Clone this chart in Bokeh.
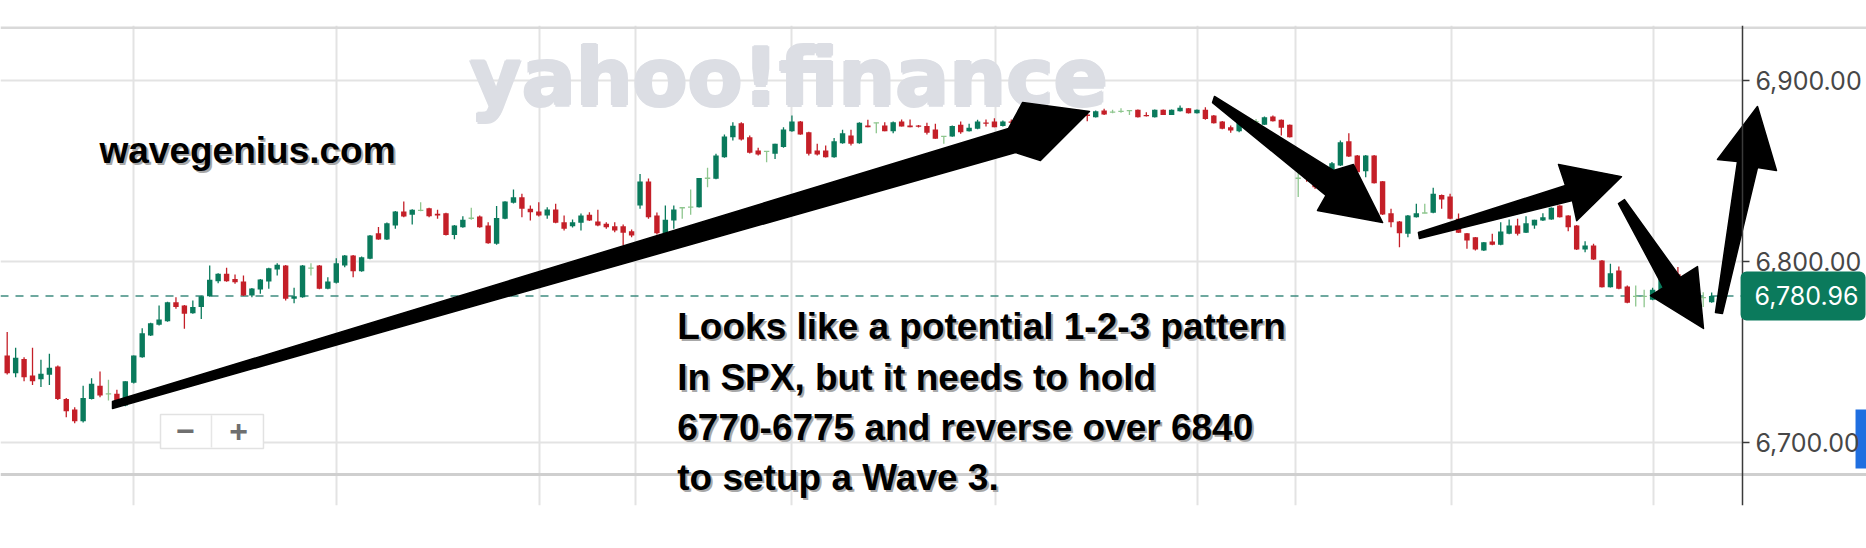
from bokeh.plotting import figure
from bokeh.models import Range1d, FixedTicker, NumeralTickFormatter, Span, ColumnDataSource
from bokeh.core.properties import value
from bokeh.embed import file_html
from bokeh.resources import INLINE

# ---------------- data ----------------
opens = [6748.0, 6738.3, 6746.2, 6737.0, 6735.0, 6737.4, 6742.0, 6724.0, 6718.2, 6711.8,
         6724.1, 6731.3, 6726.9, 6726.9, 6720.4, 6733.0, 6747.1, 6759.1, 6765.0, 6767.0,
         6777.5, 6775.7, 6771.4, 6774.8, 6780.8, 6789.1, 6793.2, 6790.4, 6788.9, 6781.2,
         6784.5, 6788.9, 6795.6, 6797.8, 6779.4, 6780.3, 6796.3, 6797.8, 6784.9, 6788.2,
         6797.8, 6803.3, 6794.6, 6801.5, 6815.6, 6812.2, 6819.9, 6827.6, 6825.8, 6828.2,
         6829.4, 6826.4, 6826.7, 6814.7, 6818.9, 6823.9, 6824.9, 6819.9, 6809.8, 6823.6,
         6832.4, 6835.5, 6829.1, 6827.6, 6825.4, 6828.7, 6821.7, 6819.5, 6821.4, 6825.8,
         6822.1, 6820.8, 6819.5, 6819.5, 6816.7, 6830.9, 6844.2, 6825.4, 6815.6, 6822.7,
         6829.7, 6830.0, 6830.0, 6846.0, 6845.7, 6857.6, 6868.7, 6876.4, 6868.7, 6861.3,
         6860.8, 6859.5, 6863.2, 6872.0, 6877.3, 6871.4, 6861.3, 6861.3, 6857.6, 6865.4,
         6869.6, 6865.4, 6875.1, 6876.6, 6875.1, 6872.0, 6877.3, 6875.1, 6875.1, 6874.8,
         6872.9, 6869.1, 6869.1, 6875.5, 6872.0, 6873.3, 6876.8, 6877.3, 6874.8, 6877.1,
         6876.5, 6878.0, 6877.0, 6879.0, 6880.0, 6879.0, 6881.0, 6883.4, 6881.2, 6879.7,
         6883.4, 6882.5, 6882.9, 6883.4, 6883.8, 6880.9, 6879.7, 6883.8, 6881.0, 6883.0,
         6884.7, 6881.9, 6883.8, 6880.7, 6877.3, 6874.2, 6872.0, 6876.5, 6877.3, 6875.5,
         6880.1, 6878.3, 6875.5, 6846.0, 6852.0, 6844.0, 6842.0, 6848.4, 6853.0, 6866.5,
         6858.6, 6849.9, 6858.6, 6844.4, 6826.7, 6822.1, 6815.3, 6824.5, 6826.8, 6826.9,
         6836.8, 6835.9, 6823.6, 6815.6, 6813.4, 6806.1, 6811.0, 6809.2, 6815.3, 6819.9,
         6815.9, 6819.9, 6822.7, 6823.2, 6830.9, 6825.4, 6819.9, 6806.6, 6808.8, 6800.6,
         6785.8, 6795.0, 6786.2, 6780.7, 6780.7, 6778.8, 6784.0, 6795.0, 6793.0, 6786.0,
         6781.0, 6780.1, 6777.5]
highs = [6761.0, 6752.3, 6747.1, 6752.3, 6745.7, 6749.0, 6742.5, 6724.6, 6719.5, 6731.3,
         6735.5, 6739.2, 6734.6, 6729.1, 6733.9, 6748.1, 6763.1, 6766.2, 6775.7, 6777.8,
         6780.3, 6776.0, 6778.5, 6781.1, 6797.8, 6793.5, 6796.5, 6792.8, 6792.3, 6785.4,
         6790.4, 6796.6, 6799.0, 6798.1, 6785.5, 6798.1, 6799.0, 6798.1, 6791.3, 6801.8,
         6803.6, 6803.6, 6802.7, 6814.7, 6819.0, 6821.5, 6827.9, 6833.1, 6828.9, 6832.8,
         6829.7, 6828.6, 6827.0, 6820.2, 6825.0, 6829.7, 6825.4, 6821.7, 6830.6, 6833.3,
         6839.8, 6837.4, 6830.9, 6832.8, 6830.0, 6831.9, 6825.4, 6823.2, 6826.5, 6827.2,
         6828.6, 6821.7, 6821.7, 6820.4, 6817.7, 6848.4, 6845.9, 6827.1, 6830.9, 6830.9,
         6829.7, 6839.8, 6846.2, 6851.8, 6859.5, 6870.2, 6877.0, 6877.0, 6869.6, 6862.8,
         6860.8, 6865.0, 6874.2, 6880.7, 6877.6, 6871.7, 6865.0, 6864.1, 6868.3, 6872.8,
         6872.8, 6876.9, 6878.3, 6876.6, 6877.0, 6877.3, 6878.5, 6878.5, 6875.4, 6876.6,
         6876.1, 6869.1, 6875.1, 6877.3, 6876.1, 6878.3, 6878.5, 6879.2, 6877.9, 6878.5,
         6879.0, 6879.0, 6880.0, 6881.0, 6881.0, 6882.0, 6882.0, 6883.8, 6881.9, 6883.4,
         6884.4, 6883.8, 6884.7, 6883.4, 6884.0, 6882.5, 6884.0, 6884.0, 6884.0, 6886.2,
         6884.8, 6884.0, 6885.2, 6880.9, 6877.6, 6875.1, 6877.6, 6879.0, 6878.8, 6880.1,
         6880.7, 6878.5, 6875.7, 6850.3, 6853.0, 6845.0, 6849.0, 6855.0, 6866.9, 6870.9,
         6858.8, 6858.8, 6858.8, 6844.5, 6829.1, 6822.4, 6825.7, 6831.9, 6831.9, 6840.7,
         6837.0, 6837.4, 6826.5, 6815.7, 6813.5, 6810.8, 6815.3, 6821.7, 6823.2, 6823.6,
         6825.0, 6823.1, 6826.7, 6829.8, 6831.1, 6825.6, 6820.1, 6811.2, 6809.8, 6800.8,
         6798.7, 6797.2, 6786.7, 6786.7, 6784.4, 6785.5, 6795.5, 6797.0, 6797.0, 6788.0,
         6784.0, 6783.0, 6782.9]
lows = [6737.5, 6736.1, 6733.9, 6731.7, 6730.6, 6731.7, 6723.5, 6713.9, 6710.7, 6711.0,
        6723.8, 6725.0, 6723.2, 6720.0, 6720.0, 6732.6, 6746.8, 6758.8, 6764.7, 6766.7,
        6773.9, 6762.8, 6771.1, 6768.3, 6780.5, 6788.0, 6788.8, 6787.7, 6780.9, 6780.3,
        6782.2, 6784.9, 6792.3, 6778.5, 6777.0, 6780.0, 6792.3, 6784.6, 6784.6, 6787.9,
        6796.8, 6791.3, 6794.3, 6801.2, 6812.0, 6811.9, 6818.1, 6824.5, 6820.4, 6827.8,
        6824.5, 6823.6, 6814.4, 6812.3, 6818.6, 6823.0, 6818.6, 6809.8, 6809.2, 6823.3,
        6832.1, 6824.5, 6822.7, 6824.9, 6823.6, 6821.1, 6817.1, 6818.8, 6817.1, 6822.4,
        6819.5, 6818.1, 6816.2, 6808.8, 6813.4, 6829.1, 6823.6, 6814.9, 6815.5, 6818.1,
        6823.6, 6825.8, 6829.8, 6841.0, 6845.4, 6857.3, 6866.9, 6866.9, 6859.7, 6858.6,
        6854.9, 6856.7, 6862.9, 6871.7, 6870.0, 6858.6, 6858.6, 6857.4, 6857.3, 6865.1,
        6864.1, 6865.1, 6874.2, 6870.9, 6872.0, 6870.9, 6874.6, 6874.2, 6874.1, 6870.2,
        6867.8, 6865.0, 6868.9, 6870.6, 6871.8, 6873.0, 6874.6, 6874.2, 6874.6, 6876.2,
        6876.0, 6876.0, 6876.5, 6878.0, 6878.0, 6878.5, 6879.0, 6881.6, 6877.5, 6879.6,
        6880.9, 6881.9, 6882.2, 6881.0, 6879.6, 6880.1, 6879.6, 6880.9, 6880.9, 6882.9,
        6881.8, 6881.8, 6878.3, 6876.2, 6873.1, 6871.1, 6871.4, 6876.0, 6876.1, 6875.4,
        6877.3, 6869.6, 6868.5, 6835.7, 6844.0, 6840.0, 6841.0, 6847.5, 6852.8, 6857.7,
        6849.2, 6846.6, 6843.1, 6825.7, 6818.9, 6807.9, 6813.4, 6824.3, 6826.7, 6826.7,
        6829.1, 6823.4, 6815.7, 6807.0, 6806.1, 6805.8, 6809.0, 6809.0, 6815.1, 6814.4,
        6815.7, 6818.1, 6822.4, 6823.0, 6824.3, 6816.7, 6806.3, 6805.1, 6800.8, 6785.6,
        6785.6, 6784.7, 6777.0, 6775.1, 6774.7, 6778.6, 6783.7, 6789.0, 6785.0, 6781.0,
        6778.0, 6774.8, 6777.2]
closes = [6738.3, 6746.8, 6736.1, 6733.9, 6738.0, 6741.3, 6724.1, 6717.3, 6711.8, 6724.6,
          6732.4, 6726.0, 6726.9, 6720.4, 6733.9, 6748.1, 6760.4, 6765.9, 6768.0, 6777.5,
          6774.8, 6771.1, 6774.8, 6780.8, 6789.9, 6793.2, 6789.1, 6788.6, 6781.2, 6785.1,
          6790.1, 6796.3, 6798.2, 6779.4, 6780.8, 6797.8, 6796.3, 6784.9, 6788.9, 6799.0,
          6803.3, 6794.6, 6802.4, 6814.4, 6812.2, 6821.2, 6827.6, 6824.9, 6828.6, 6828.2,
          6825.0, 6825.4, 6814.7, 6819.9, 6823.0, 6823.9, 6818.9, 6810.1, 6824.1, 6833.1,
          6835.5, 6829.1, 6827.2, 6825.4, 6828.7, 6821.4, 6818.1, 6821.7, 6825.4, 6822.7,
          6819.9, 6818.9, 6817.1, 6815.9, 6814.4, 6844.2, 6824.5, 6815.6, 6823.0, 6828.7,
          6829.7, 6830.0, 6846.2, 6846.0, 6858.6, 6869.1, 6875.0, 6867.4, 6860.1, 6859.1,
          6860.8, 6865.0, 6872.9, 6877.3, 6870.2, 6859.5, 6859.1, 6857.6, 6866.5, 6870.9,
          6865.0, 6876.6, 6874.2, 6876.6, 6872.0, 6877.0, 6874.6, 6874.2, 6874.4, 6871.1,
          6867.8, 6869.1, 6874.8, 6871.4, 6873.9, 6877.3, 6876.2, 6874.2, 6877.3, 6876.8,
          6878.0, 6877.0, 6879.0, 6880.0, 6879.0, 6881.0, 6880.0, 6882.7, 6880.4, 6883.0,
          6881.2, 6882.5, 6882.9, 6883.4, 6879.7, 6880.4, 6883.8, 6881.0, 6883.8, 6884.9,
          6881.9, 6883.8, 6878.8, 6876.4, 6873.3, 6872.4, 6877.3, 6878.5, 6877.3, 6879.7,
          6877.5, 6873.9, 6868.7, 6846.0, 6846.0, 6841.0, 6848.0, 6854.3, 6865.9, 6858.0,
          6849.3, 6858.6, 6843.3, 6826.0, 6821.7, 6815.6, 6825.4, 6826.7, 6826.8, 6837.4,
          6834.3, 6823.6, 6815.9, 6811.6, 6806.6, 6810.7, 6809.2, 6816.6, 6819.9, 6815.3,
          6821.2, 6823.0, 6824.5, 6829.7, 6824.5, 6818.9, 6806.6, 6808.8, 6801.1, 6785.8,
          6793.5, 6784.9, 6777.2, 6780.7, 6780.7, 6784.4, 6795.0, 6790.0, 6786.0, 6782.0,
          6781.0, 6780.1, 6780.96]

y_ticks = [6700, 6800, 6900]
# session boundaries (vertical grid lines), in bar units
x_grid_ticks = [14.97, 39.0, 63.12, 74.46, 92.95, 117.12, 141.1, 152.68, 171.17, 195.07]
last_price = 6780.96
last_price_label = "6,780.96"

note_lines = ["Looks like a potential 1-2-3 pattern",
              "In SPX, but it needs to hold",
              "6770-6775 and reverse over 6840",
              "to setup a Wave 3."]
site_text = "wavegenius.com"
watermark = "yahoo!finance"

# ---------------- derived ----------------
UP, DOWN, FLAT = "#0a7a5c", "#c41f28", "#8ec68e"
xs = list(range(len(opens)))
colors, tops, bots = [], [], []
for o, c in zip(opens, closes):
    colors.append(UP if c > o else (DOWN if c < o else FLAT))
    t, b = max(o, c), min(o, c)
    if t - b < 0.7:
        m = (t + b) / 2
        t, b = m + 0.35, m - 0.35
    tops.append(t)
    bots.append(b)
src = ColumnDataSource(dict(x=xs, high=highs, low=lows, top=tops, bottom=bots, color=colors))

X_LO, X_HI = -0.794, 220.35      # visible bar range (full width)
AXIS_X = 205.65                  # where the price scale sits
Y_LO, Y_HI = 6665.19, 6930.39

p = figure(frame_width=1866, frame_height=480,
           x_range=Range1d(X_LO, X_HI), y_range=Range1d(Y_LO, Y_HI),
           output_backend="svg", toolbar_location=None,
           x_axis_location=None, y_axis_location="right",
           min_border_left=0, min_border_top=25, min_border_bottom=43, min_border_right=0,
           background_fill_color="white", border_fill_color="white", outline_line_color=None)

# vertical grid
p.ygrid.visible = False
p.xgrid.ticker = FixedTicker(ticks=x_grid_ticks)
p.xgrid.grid_line_color = "#e3e3e3"
p.xgrid.grid_line_width = 2

# horizontal grid lines stop at the price scale
p.segment(x0=[X_LO] * len(y_ticks), x1=[AXIS_X] * len(y_ticks), y0=y_ticks, y1=y_ticks,
          line_color="#e3e3e3", line_width=2)

# y axis, pinned at the price-scale position
ax = p.yaxis[0]
ax.fixed_location = AXIS_X
ax.ticker = FixedTicker(ticks=y_ticks)
ax.formatter = NumeralTickFormatter(format="0,0.00")
ax.major_label_text_font = "Inter"
ax.major_label_text_font_size = "25px"
ax.major_label_text_color = "#474747"
ax.axis_line_color = "#3a3a3a"
ax.axis_line_width = 1.5
ax.major_tick_line_color = "#3a3a3a"
ax.major_tick_line_width = 1.5
ax.major_tick_out = 7
ax.major_tick_in = 0
ax.minor_tick_out = 0
ax.minor_tick_in = 0
ax.major_label_standoff = 6

# borders of the price pane (full width)
p.add_layout(Span(location=6929.1, dimension="width", line_color="#d9d9d9", line_width=2.5,
                  level="underlay"))
p.add_layout(Span(location=6682.3, dimension="width", line_color="#cfcfcf", line_width=3,
                  level="underlay"))

# watermark (slightly thickened by small offsets)
for dx, dy in [(-1.5, 0), (1.5, 0), (0, -1.5), (0, 1.5), (0, 0)]:
    p.text(x=[54.79], y=[6901.5], text=[watermark], text_font=value("DejaVu Sans"),
           text_font_style="bold", text_font_size="80px", text_color="#dcdee4",
           x_offset=dx, y_offset=dy, text_baseline="middle", text_align="left")

# last price line
p.segment(x0=[X_LO], x1=[AXIS_X], y0=[last_price], y1=[last_price],
          line_color="#3f8c80", line_width=1.5, line_dash="8 7")

# candles
p.segment(x0="x", y0="low", x1="x", y1="high", source=src, line_color="color", line_width=1.3)
p.vbar(x="x", width=0.64, top="top", bottom="bottom", source=src,
       fill_color="color", line_color=None)

# zoom buttons
p.quad(left=[18.17], right=[30.37], top=[6715.5], bottom=[6696.7],
       fill_color="white", line_color="#e2e2e2", line_width=1.5)
p.segment(x0=[24.21], y0=[6715.0], x1=[24.21], y1=[6697.2], line_color="#e6e6e6", line_width=1.5)
p.text(x=[21.13, 27.41], y=[6706.4, 6706.4], text=["\u2212", "+"],
       text_font=value("Liberation Sans"), text_font_style="bold", text_font_size="32px",
       text_color="#6f6f6f", text_align="center", text_baseline="middle")

# side tab at the right edge
p.quad(left=[219.05], right=[221.0], top=[6718.2], bottom=[6685.6],
       fill_color="#1f6fe0", line_color=None)

# annotation arrows (bar index, price)
arrows = [
    ([12.48, 119.5, 122.45, 128.26, 120.33, 118.67, 12.48],
     [6718.8, 6860.2, 6855.8, 6882.9, 6887.8, 6873.5, 6722.6]),
    ([143.08, 157.18, 159.55, 163.0, 155.29, 156.3, 142.85],
     [6891.2, 6850.3, 6853.6, 6821.5, 6828.2, 6836.5, 6887.8]),
    ([167.25, 184.68, 183.85, 191.31, 186.0, 185.5, 167.37],
     [6816.0, 6842.0, 6853.6, 6846.9, 6822.6, 6833.7, 6812.7]),
    ([191.67, 198.3, 200.32, 201.03, 194.75, 196.29, 190.96],
     [6834.2, 6791.2, 6797.2, 6763.0, 6781.2, 6785.6, 6832.0]),
    ([202.45, 205.06, 202.69, 207.43, 209.68, 207.43, 203.28],
     [6771.8, 6855.2, 6856.4, 6885.6, 6850.3, 6851.9, 6771.3]),
]
for axs, ays in arrows:
    p.patch(axs, ays, fill_color="black", line_color="black", line_width=1.5, line_join="round")

# texts with soft shadow (anchored at their vertical middle)
def shadow_text(x, y, s):
    for colr, off in [("#a8a8a8", 2), ("black", 0)]:
        p.text(x=[x], y=[y], text=[s], text_font=value("Liberation Sans"),
               text_font_style="bold", text_font_size="37px", text_color=colr,
               x_offset=off, y_offset=off, text_baseline="middle", text_align="left")

shadow_text(10.94, 6861.5, site_text)
for s, yy in zip(note_lines, [6764.1, 6735.9, 6708.3, 6680.7]):
    shadow_text(79.41, yy, s)

# last price badge on the price scale
badge_kw = dict(x=[212.83], y=[last_price], width=14.81, height=27.07,
                fill_color="#0b7a5c", line_color=None, level="overlay")
try:
    p.rect(border_radius=6, **badge_kw)
except Exception:
    p.rect(**badge_kw)
p.text(x=[207.08], y=[last_price], text=[last_price_label], text_font=value("Inter"),
       text_font_size="25px", text_color="white", text_baseline="middle", text_align="left",
       level="overlay")

open("out.html", "w").write(file_html(p, INLINE))
